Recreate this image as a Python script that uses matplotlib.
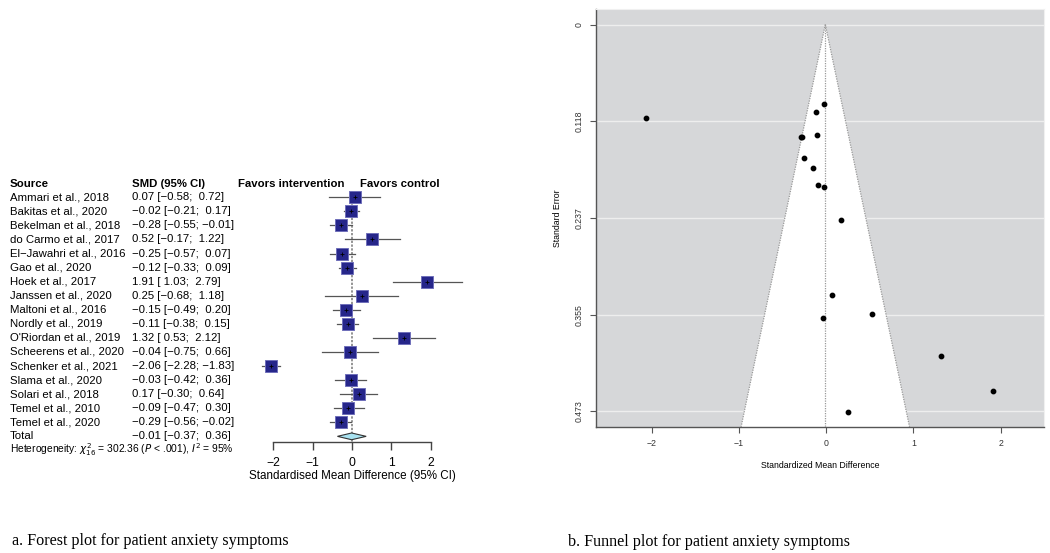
import numpy as np
import matplotlib
matplotlib.use("Agg")
import matplotlib.pyplot as plt
from matplotlib.patches import Polygon
from matplotlib.transforms import blended_transform_factory

# Data
studies = ["Ammari et al., 2018", "Bakitas et al., 2020", "Bekelman et al., 2018",
           "do Carmo et al., 2017", "El\u2212Jawahri et al., 2016", "Gao et al., 2020",
           "Hoek et al., 2017", "Janssen et al., 2020", "Maltoni et al., 2016",
           "Nordly et al., 2019", "O'Riordan et al., 2019", "Scheerens et al., 2020",
           "Schenker et al., 2021", "Slama et al., 2020", "Solari et al., 2018",
           "Temel et al., 2010", "Temel et al., 2020"]
smd = [0.07, -0.02, -0.28, 0.52, -0.25, -0.12, 1.91, 0.25, -0.15, -0.11, 1.32,
       -0.04, -2.06, -0.03, 0.17, -0.09, -0.29]
ci_low = [-0.58, -0.21, -0.55, -0.17, -0.57, -0.33, 1.03, -0.68, -0.49, -0.38, 0.53,
          -0.75, -2.28, -0.42, -0.30, -0.47, -0.56]
ci_high = [0.72, 0.17, -0.01, 1.22, 0.07, 0.09, 2.79, 1.18, 0.20, 0.15, 2.12,
           0.66, -1.83, 0.36, 0.64, 0.30, -0.02]
total_smd, total_low, total_high = -0.01, -0.37, 0.36
forest_ticks = [-2, -1, 0, 1, 2]
funnel_xticks = [-2, -1, 0, 1, 2]
funnel_yticks = [0, 0.118, 0.237, 0.355, 0.473]


def fmt(v):
    s = "%.2f" % abs(v)
    return ("\u2212" + s) if v < 0 else s


def fmt_ci(est, lo, hi):
    lo_s = fmt(lo) if lo < 0 else " " + fmt(lo)
    hi_s = fmt(hi) if hi < 0 else " " + fmt(hi)
    return "%s [%s; %s]" % (fmt(est), lo_s, hi_s)


W, H = 1050, 553
fig = plt.figure(figsize=(W / 100, H / 100), dpi=100)
fig.patch.set_facecolor("white")


def px_axes(left, top, right, bottom):
    return fig.add_axes([left / W, 1 - bottom / H, (right - left) / W, (bottom - top) / H])


sans = "Liberation Sans"
serif = "Liberation Serif"

# ---------------- Forest plot ----------------
axf = px_axes(273.3, 184, 430.7, 441.7)
axf.set_xlim(-2, 2)
axf.set_ylim(17.38, -0.946)
axf.patch.set_alpha(0)
for s in ["top", "right", "left"]:
    axf.spines[s].set_visible(False)
axf.spines["bottom"].set_color("#444444")
axf.spines["bottom"].set_linewidth(1.0)
axf.set_yticks([])
axf.set_xticks(forest_ticks)
axf.tick_params(axis="x", length=6, width=1.0, color="#444444", labelsize=8.7, pad=5)
for lab in axf.get_xticklabels():
    lab.set_fontfamily(sans)
axf.set_xlabel("Standardised Mean Difference (95% CI)", fontsize=8.4, family=sans, labelpad=1)

n = len(studies)
rows = np.arange(n)
axf.plot([0, 0], [-0.45, 17.38], color="#777777", lw=1.1, ls=(0, (1.5, 1)), zorder=1)
for i in rows:
    axf.plot([ci_low[i], ci_high[i]], [i, i], color="#555555", lw=0.9, clip_on=False, zorder=2)
axf.plot(smd, rows, ls="none", marker="s", markersize=8.5, markerfacecolor="#26268a",
         markeredgecolor="#6f6fba", markeredgewidth=0.7, clip_on=False, zorder=3)
axf.plot(smd, rows, ls="none", marker="+", markersize=2.2, markeredgewidth=0.6,
         color="#000000", clip_on=False, zorder=4)
diamond = Polygon([[total_low, n], [total_smd, n - 0.24], [total_high, n], [total_smd, n + 0.24]],
                  closed=True, facecolor="#a8e2f0", edgecolor="#333333", lw=0.8, zorder=3,
                  clip_on=False)
axf.add_patch(diamond)

tr = blended_transform_factory(fig.transFigure, axf.transData)
txt = dict(transform=tr, fontsize=8.2, family=sans, va="center", ha="left")
axf.text(10 / W, -0.95, "Source", fontweight="bold", **txt)
axf.text(132 / W, -0.95, "SMD (95% CI)", fontweight="bold", **txt)
axf.text(345 / W, -0.95, "Favors intervention", transform=tr, fontsize=8.2, family=sans,
         va="center", ha="right", fontweight="bold")
axf.text(360 / W, -0.95, "Favors control", fontweight="bold", **txt)
for i in rows:
    axf.text(10 / W, i, studies[i], **txt)
    axf.text(132 / W, i, fmt_ci(smd[i], ci_low[i], ci_high[i]), **txt)
axf.text(10 / W, n, "Total", **txt)
axf.text(132 / W, n, fmt_ci(total_smd, total_low, total_high), **txt)
axf.text(10 / W, n + 0.93,
         r"Heterogeneity: $\chi^2_{16}$ = 302.36 ($P$ < .001), $I^2$ = 95%",
         transform=tr, fontsize=7.4, family=sans, va="center", ha="left")

# ---------------- Funnel plot ----------------
se = [(h - l) / (2 * 1.96) for l, h in zip(ci_low, ci_high)]
axp = px_axes(596, 9, 1044, 427)
axp.set_xlim(-2.638, 2.496)
axp.set_ylim(0.4926, -0.019)
axp.set_facecolor("#d6d7d9")
for s in ["top", "right"]:
    axp.spines[s].set_color("#f0f0f0")
for s in ["left", "bottom"]:
    axp.spines[s].set_color("#555555")
    axp.spines[s].set_linewidth(1.0)
axp.set_xticks(funnel_xticks)
axp.set_yticks(funnel_yticks)
axp.set_yticklabels(["0", "0.118", "0.237", "0.355", "0.473"], rotation=90, va="center")
axp.tick_params(length=4, width=0.8, color="#555555", labelsize=6.3, labelcolor="#333333", pad=5)
for y in funnel_yticks:
    axp.axhline(y, color="#eeeeee", lw=1.0, zorder=1)
se_max = 0.4926
funnel = Polygon([[total_smd, 0], [total_smd - 1.96 * se_max, se_max],
                  [total_smd + 1.96 * se_max, se_max]], closed=True,
                 facecolor="white", edgecolor="none", zorder=2)
axp.add_patch(funnel)
axp.plot([total_smd, total_smd - 1.96 * se_max], [0, se_max], color="#999999", lw=0.9,
         ls=(0, (1, 1)), zorder=3)
axp.plot([total_smd, total_smd + 1.96 * se_max], [0, se_max], color="#999999", lw=0.9,
         ls=(0, (1, 1)), zorder=3)
axp.plot([total_smd, total_smd], [0, se_max], color="#999999", lw=0.9, ls=(0, (1, 1)), zorder=3)
axp.scatter(smd, se, s=10, color="black", zorder=4)
axp.set_xlabel("Standardized Mean Difference", fontsize=6.3, family=sans, labelpad=9)
axp.set_ylabel("Standard Error", fontsize=6.3, family=sans, labelpad=9)
for lab in axp.get_xticklabels() + axp.get_yticklabels():
    lab.set_fontfamily(sans)

# ---------------- Captions ----------------
fig.text(12 / W, 1 - 541 / H, "a. Forest plot for patient anxiety symptoms",
         family=serif, fontsize=11.6, va="center", ha="left")
fig.text(568 / W, 1 - 542 / H, "b. Funnel plot for patient anxiety symptoms",
         family=serif, fontsize=11.6, va="center", ha="left")

fig.savefig("out.png", dpi=100)
